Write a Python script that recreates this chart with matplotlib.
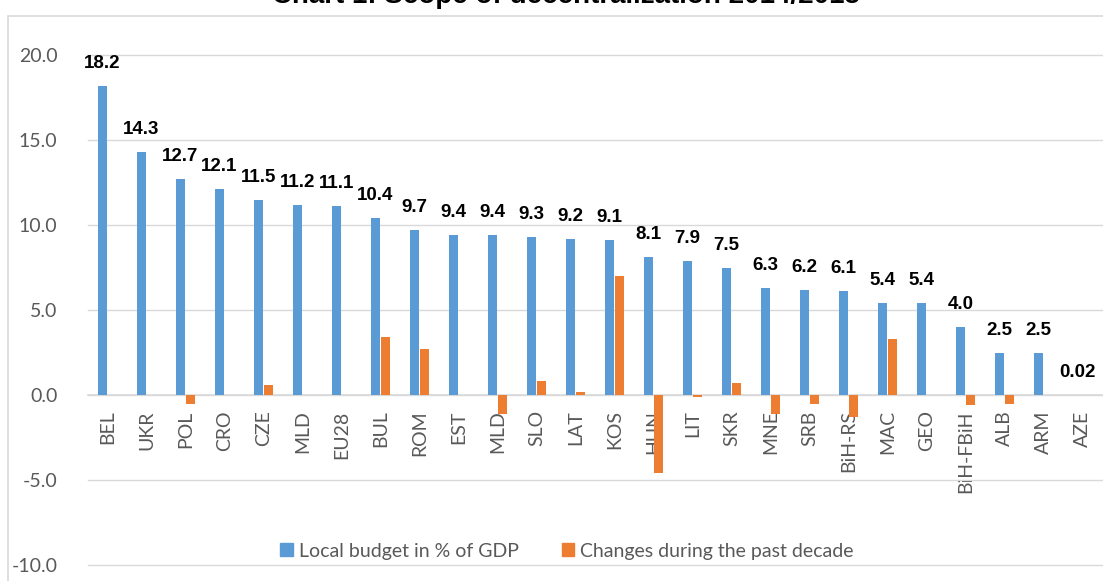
import numpy as np
import matplotlib
matplotlib.use("Agg")
import matplotlib.pyplot as plt
from matplotlib.patches import Patch, Rectangle

# data
countries = ['BEL', 'UKR', 'POL', 'CRO', 'CZE', 'MLD', 'EU28', 'BUL', 'ROM', 'EST',
             'MLD', 'SLO', 'LAT', 'KOS', 'HUN', 'LIT', 'SKR', 'MNE', 'SRB', 'BiH-RS',
             'MAC', 'GEO', 'BiH-FBiH', 'ALB', 'ARM', 'AZE']
local_budget = [18.2, 14.3, 12.7, 12.1, 11.5, 11.2, 11.1, 10.4, 9.7, 9.4,
                9.4, 9.3, 9.2, 9.1, 8.1, 7.9, 7.5, 6.3, 6.2, 6.1,
                5.4, 5.4, 4.0, 2.5, 2.5, 0.02]
budget_labels = ['18.2', '14.3', '12.7', '12.1', '11.5', '11.2', '11.1', '10.4', '9.7', '9.4',
                 '9.4', '9.3', '9.2', '9.1', '8.1', '7.9', '7.5', '6.3', '6.2', '6.1',
                 '5.4', '5.4', '4.0', '2.5', '2.5', '0.02']
changes = [0, 0, -0.5, 0, 0.6, 0, 0, 3.4, 2.7, 0,
           -1.1, 0.8, 0.2, 7.0, -4.6, -0.1, 0.7, -1.1, -0.5, -1.3,
           3.3, 0, -0.6, -0.5, 0, 0]
yticks = [-10, -5, 0, 5, 10, 15, 20]

blue = '#5B9BD5'
orange = '#ED7D31'
grey_text = '#595959'
grid_col = '#d9d9d9'

fig = plt.figure(figsize=(11.03, 5.81), dpi=100)
ax = fig.add_axes([88 / 1103, 1 - 565 / 581, 1014 / 1103, 510 / 581])

# axis line at zero (set before tick labels, it resets the ticks)
for s in ['top', 'right', 'left']:
    ax.spines[s].set_visible(False)
ax.spines['bottom'].set_position(('data', 0))
ax.spines['bottom'].set_color(grid_col)
ax.spines['bottom'].set_linewidth(1.2)
ax.spines['bottom'].set_zorder(2)

x = np.arange(len(countries))
w = 0.215
off = 0.128
ax.bar(x - off, local_budget, w, color=blue, zorder=3)
ax.bar(x + off, changes, w, color=orange, zorder=3)

for xi, v, lab in zip(x, local_budget, budget_labels):
    ax.annotate(lab, (xi - off, v), xytext=(0, 10), textcoords='offset points',
                ha='center', va='bottom', fontsize=13.5, fontweight='bold',
                family='Liberation Sans', color='black')

ax.set_xlim(-0.5, len(countries) - 0.5)
ax.set_ylim(-10, 20)
ax.set_yticks(yticks)
ax.set_yticklabels([f'{t:.1f}' for t in yticks], family='Lato', fontsize=14, color=grey_text)
ax.set_xticks(x)
ax.set_xticklabels(countries, rotation=90, family='Lato', fontsize=14, color=grey_text)
ax.tick_params(axis='both', length=0)
ax.tick_params(axis='y', pad=22)
ax.tick_params(axis='x', pad=11)

ax.yaxis.grid(True, color=grid_col, linewidth=1, zorder=0)
ax.set_axisbelow(True)
for gl in ax.get_ygridlines():
    gl.set_clip_on(False)

handles = [Patch(color=blue, label='Local budget in % of GDP'),
           Patch(color=orange, label='Changes during the past decade')]
leg = fig.legend(handles=handles, loc='center', bbox_to_anchor=(0.514, 1 - 551 / 581),
                 ncol=2, frameon=False, handlelength=0.65, handleheight=0.65,
                 handletextpad=0.3, columnspacing=2.2,
                 prop={'family': 'Lato', 'size': 14})
for t in leg.get_texts():
    t.set_color(grey_text)

# outer chart border (only left and top visible)
fig.patches.append(Rectangle((8 / 1103, -0.05), 1.2, 1 - 16 / 581 + 0.05,
                             transform=fig.transFigure, fill=False,
                             edgecolor=grid_col, linewidth=1.2))

fig.text(0.513, 1 - 3 / 581, 'Chart 1: Scope of decentralization 2014/2015',
         ha='center', va='baseline', fontsize=20, fontweight='bold',
         family='Liberation Sans')

fig.savefig('out.png', dpi=100)
